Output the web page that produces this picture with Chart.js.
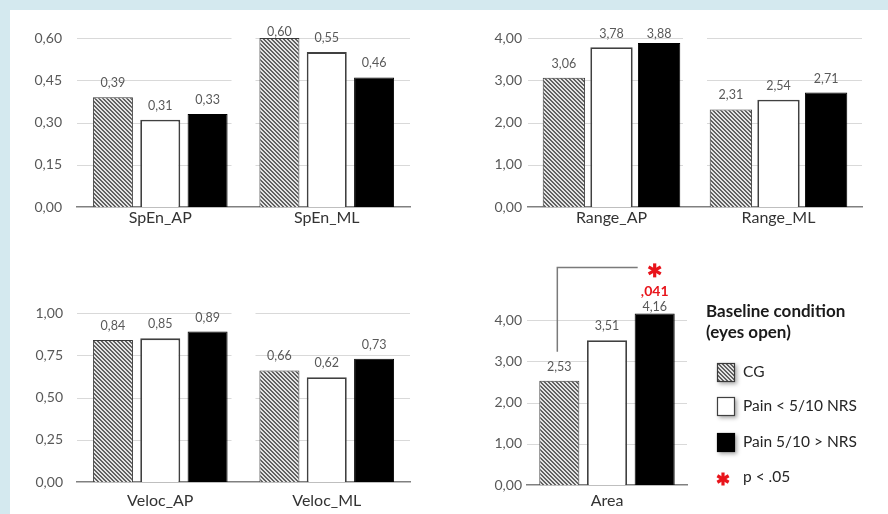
<!DOCTYPE html>
<html>
<head>
<meta charset="utf-8">
<script src="https://cdn.jsdelivr.net/npm/chart.js@4/dist/chart.umd.min.js"></script>
<style>
  html, body { margin: 0; padding: 0; }
  body { width: 888px; height: 514px; background: #d4e9ef; position: relative; overflow: hidden; }
  #sheet { position: absolute; left: 10px; top: 10px; width: 878px; height: 504px; background: #ffffff; }
  canvas { position: absolute; }
</style>
</head>
<body>
<div id="sheet"></div>
<canvas id="c1" width="430" height="230" style="left:10px;top:10px"></canvas>
<canvas id="c2" width="448" height="230" style="left:440px;top:10px"></canvas>
<canvas id="c3" width="430" height="264" style="left:10px;top:250px"></canvas>
<canvas id="c4" width="448" height="264" style="left:440px;top:250px"></canvas>
<script>
// Groups shown in every panel
const groupNames = ['CG', 'Pain < 5/10 NRS', 'Pain 5/10 > NRS'];

// Sample entropy
const spenLabels = ['SpEn_AP', 'SpEn_ML'];
const spenCG   = [0.39, 0.60];
const spenLow  = [0.31, 0.55];
const spenHigh = [0.33, 0.46];
const spenTicks = [0, 0.15, 0.30, 0.45, 0.60];

// Range
const rangeLabels = ['Range_AP', 'Range_ML'];
const rangeCG   = [3.06, 2.31];
const rangeLow  = [3.78, 2.54];
const rangeHigh = [3.88, 2.71];
const rangeTicks = [0, 1, 2, 3, 4];

// Velocity
const velocLabels = ['Veloc_AP', 'Veloc_ML'];
const velocCG   = [0.84, 0.66];
const velocLow  = [0.85, 0.62];
const velocHigh = [0.89, 0.73];
const velocTicks = [0, 0.25, 0.50, 0.75, 1.00];

// Sway area
const areaLabels = ['Area'];
const areaCG   = [2.53];
const areaLow  = [3.51];
const areaHigh = [4.16];
const areaTicks = [0, 1, 2, 3, 4];
const areaPValue = ',041';

const legendTitle = ['Baseline condition', '(eyes open)'];
const sigLabel = 'p < .05';

const FONT = 'Lato, "Open Sans", sans-serif';
const fmt = v => v.toFixed(2).replace('.', ',');

function makeHatch() {
  const c = document.createElement('canvas');
  c.width = 4; c.height = 4;
  const g = c.getContext('2d');
  g.fillStyle = '#e4e4e4';
  g.fillRect(0, 0, 4, 4);
  g.fillStyle = '#626262';
  for (let i = 0; i < 4; i++) {
    g.fillRect(i, i, 1, 1);
    g.fillRect((i + 1) % 4, i, 1, 1);
  }
  return g.createPattern(c, 'repeat');
}
const hatch = makeHatch();

const groupStyles = [
  { backgroundColor: hatch, borderColor: '#3a3a3a', borderWidth: 1 },
  { backgroundColor: '#ffffff', borderColor: '#404040', borderWidth: 1.8 },
  { backgroundColor: '#000000', borderColor: '#000000', borderWidth: 1 }
];

// Horizontal gridlines, broken between the category groups
const segmentedGrid = {
  id: 'segmentedGrid',
  beforeDatasetsDraw(chart) {
    const { ctx, chartArea, scales: { y } } = chart;
    const n = chart.data.labels.length;
    const catW = (chartArea.right - chartArea.left) / n;
    const gap = 24;
    ctx.save();
    ctx.strokeStyle = '#d9d9d9';
    ctx.lineWidth = 1;
    y.ticks.forEach(t => {
      if (t.value === 0) return;
      const py = Math.round(y.getPixelForValue(t.value)) + 0.5;
      for (let i = 0; i < n; i++) {
        const l = i === 0 ? chartArea.left : chartArea.left + i * catW + gap / 2;
        const r = i === n - 1 ? chartArea.right : chartArea.left + (i + 1) * catW - gap / 2;
        ctx.beginPath();
        ctx.moveTo(l, py);
        ctx.lineTo(r, py);
        ctx.stroke();
      }
    });
    ctx.restore();
  }
};

// Value printed above each bar
const valueLabels = {
  id: 'valueLabels',
  afterDatasetsDraw(chart) {
    const { ctx, scales: { y } } = chart;
    const ticks = y.ticks;
    const topTick = y.getPixelForValue(ticks[ticks.length - 1].value);
    ctx.save();
    ctx.font = '12.5px ' + FONT;
    ctx.fillStyle = '#595959';
    ctx.textAlign = 'center';
    ctx.textBaseline = 'middle';
    chart.data.datasets.forEach((ds, di) => {
      chart.getDatasetMeta(di).data.forEach((el, i) => {
        const ly = Math.min(el.y - 6, Math.max(el.y - 14, topTick - 4));
        ctx.fillText(fmt(ds.data[i]), el.x, ly);
      });
    });
    ctx.restore();
  }
};

function drawStar(ctx, cx, cy, r, color, w) {
  ctx.save();
  ctx.strokeStyle = color;
  ctx.lineWidth = w;
  for (let k = 0; k < 3; k++) {
    const a = Math.PI / 2 + k * Math.PI / 3;
    ctx.beginPath();
    ctx.moveTo(cx - r * Math.cos(a), cy - r * Math.sin(a));
    ctx.lineTo(cx + r * Math.cos(a), cy + r * Math.sin(a));
    ctx.stroke();
  }
  ctx.restore();
}

// Significance bracket between CG and the high-pain group
const significance = {
  id: 'significance',
  afterDatasetsDraw(chart) {
    const { ctx, chartArea } = chart;
    const cg = chart.getDatasetMeta(0).data[0];
    const hi = chart.getDatasetMeta(2).data[0];
    const yTop = chartArea.top - 32;
    ctx.save();
    ctx.strokeStyle = '#7a7a7a';
    ctx.lineWidth = 1.5;
    ctx.beginPath();
    ctx.moveTo(cg.x - 2, cg.y - 29);
    ctx.lineTo(cg.x - 2, yTop);
    ctx.lineTo(hi.x - 17, yTop);
    ctx.stroke();
    drawStar(ctx, hi.x, yTop + 3, 7, '#e8141b', 3.2);
    ctx.font = 'bold 14px ' + FONT;
    ctx.fillStyle = '#e8141b';
    ctx.textAlign = 'center';
    ctx.textBaseline = 'middle';
    ctx.fillText(areaPValue, hi.x, yTop + 24);
    ctx.restore();
  }
};

// Legend block to the right of the Area panel
const sideLegend = {
  id: 'sideLegend',
  afterDraw(chart) {
    const { ctx } = chart;
    const lx = 266, bx = 277, tx = 303;
    ctx.save();
    ctx.textBaseline = 'middle';
    ctx.textAlign = 'left';
    ctx.fillStyle = '#1a1a1a';
    ctx.font = 'bold 17px ' + FONT;
    ctx.fillText(legendTitle[0], lx, 62);
    ctx.fillText(legendTitle[1], lx, 83);
    const rows = [122, 156, 192];
    rows.forEach((cy, i) => {
      const st = groupStyles[i];
      ctx.save();
      ctx.shadowColor = 'rgba(0,0,0,0.35)';
      ctx.shadowBlur = 4;
      ctx.shadowOffsetX = 2;
      ctx.shadowOffsetY = 2;
      ctx.fillStyle = st.backgroundColor;
      ctx.fillRect(bx, cy - 9, 18, 19);
      ctx.restore();
      ctx.strokeStyle = st.borderColor;
      ctx.lineWidth = 1.2;
      ctx.strokeRect(bx + 0.5, cy - 8.5, 17, 18);
      ctx.fillStyle = '#262626';
      ctx.font = '15.5px ' + FONT;
      ctx.fillText(groupNames[i], tx, cy);
    });
    drawStar(ctx, 283, 229, 6.5, '#e8141b', 3.2);
    ctx.fillStyle = '#262626';
    ctx.font = '15.5px ' + FONT;
    ctx.fillText(sigLabel, tx, 227);
    ctx.restore();
  }
};

function buildPanel(id, labels, cg, low, high, tickValues, opt) {
  const series = [cg, low, high];
  return new Chart(document.getElementById(id), {
    type: 'bar',
    data: {
      labels: labels,
      datasets: series.map((d, i) => Object.assign({
        label: groupNames[i],
        data: d,
        borderSkipped: 'start',
        barPercentage: opt.barPct,
        categoryPercentage: opt.catPct
      }, groupStyles[i]))
    },
    options: {
      responsive: false,
      animation: false,
      events: [],
      layout: { padding: { top: opt.top, right: opt.right, left: 0, bottom: 0 } },
      plugins: { legend: { display: false }, tooltip: { enabled: false } },
      scales: {
        x: {
          grid: { display: false, drawTicks: false },
          border: { display: true, color: '#808080', width: 1.5 },
          ticks: { color: '#333333', font: { family: FONT, size: 16 }, padding: opt.xPad },
          afterFit: s => { s.height = opt.xH; }
        },
        y: {
          min: 0,
          max: opt.max,
          grid: { display: false, drawTicks: false },
          border: { display: false },
          ticks: {
            color: '#595959',
            font: { family: FONT, size: 14 },
            padding: opt.yPad,
            callback: v => fmt(v)
          },
          afterBuildTicks: s => { s.ticks = tickValues.map(v => ({ value: v })); },
          afterFit: s => { s.width = opt.yW; }
        }
      }
    },
    plugins: [segmentedGrid, valueLabels].concat(opt.extra || [])
  });
}

buildPanel('c1', spenLabels, spenCG, spenLow, spenHigh, spenTicks,
  { max: 0.60, top: 28, right: 30, xH: 33, xPad: 1, yW: 67, yPad: 15, barPct: 0.845, catPct: 0.853 });
buildPanel('c2', rangeLabels, rangeCG, rangeLow, rangeHigh, rangeTicks,
  { max: 4, top: 28, right: 26, xH: 33, xPad: 1, yW: 88, yPad: 6, barPct: 0.89, catPct: 0.855 });
buildPanel('c3', velocLabels, velocCG, velocLow, velocHigh, velocTicks,
  { max: 1, top: 63, right: 30, xH: 32, xPad: 9, yW: 67, yPad: 14, barPct: 0.845, catPct: 0.853 });
buildPanel('c4', areaLabels, areaCG, areaLow, areaHigh, areaTicks,
  { max: 4.5, top: 49.375, right: 201, xH: 29, xPad: 6, yW: 87, yPad: 5, barPct: 0.84, catPct: 0.894,
    extra: [significance, sideLegend] });
</script>
</body>
</html>
